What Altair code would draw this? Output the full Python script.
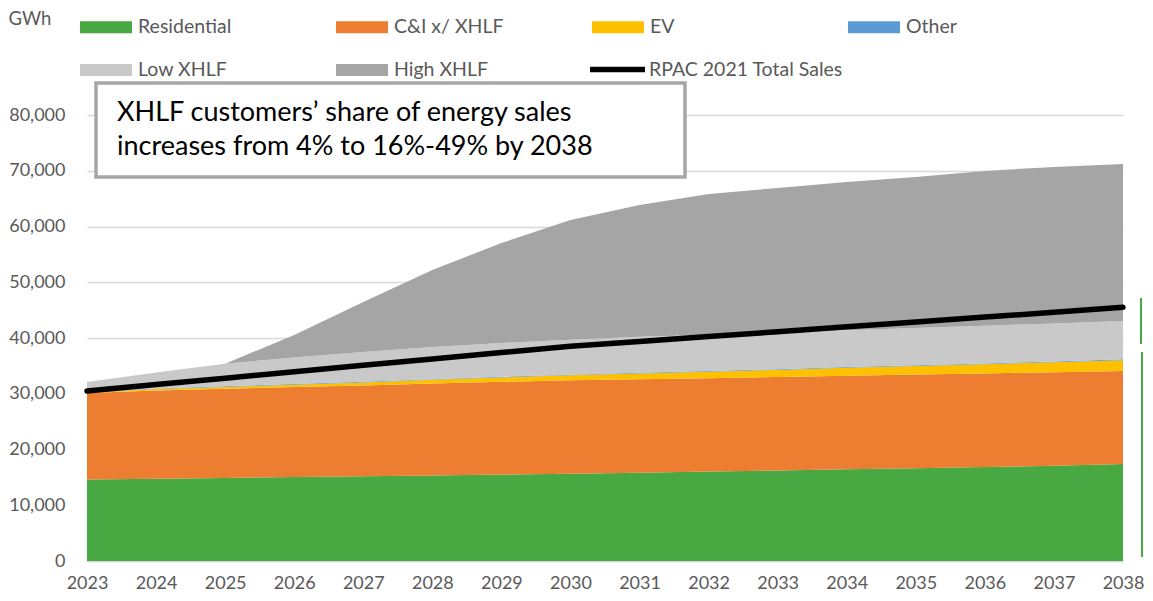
import altair as alt
import pandas as pd

years = list(range(2023, 2039))
residential = [14600, 14750, 14900, 15050, 15200, 15350, 15500, 15650, 15850, 16050, 16250, 16450, 16650, 16850, 17100, 17400]
ci_x_xhlf = [15530, 15850, 16000, 16150, 16300, 16500, 16650, 16750, 16750, 16750, 16750, 16800, 16800, 16800, 16750, 16680]
ev = [150, 250, 330, 420, 520, 650, 780, 900, 1020, 1140, 1270, 1400, 1530, 1660, 1800, 1950]
other = [110, 110, 115, 115, 120, 120, 120, 125, 125, 125, 130, 130, 130, 135, 135, 140]
low_xhlf = [1700, 2830, 4050, 4760, 5360, 5780, 6050, 6280, 6460, 6540, 6610, 6630, 6700, 6770, 6830, 6900]
high_xhlf = [0, 0, 0, 4040, 8960, 13800, 17940, 21470, 23660, 25230, 25900, 26580, 27080, 27760, 28070, 28150]
rpac_total = [30500, 31650, 32800, 33950, 35100, 36250, 37400, 38500, 39380, 40250, 41130, 42000, 42880, 43750, 44630, 45500]

area_names = ["Residential", "C&I x/ XHLF", "EV", "Other", "Low XHLF", "High XHLF"]
area_colors = ["#48a842", "#ed7d31", "#ffc000", "#5b9bd5", "#c9c9c9", "#a5a5a5"]
line_name = "RPAC 2021 Total Sales"
y_ticks = [0, 10000, 20000, 30000, 40000, 50000, 60000, 70000, 80000]
note_lines = ["XHLF customers\u2019 share of energy sales", "increases from 4% to 16%-49% by 2038"]

FONT = "Lato"
TXT = "#595959"

series_values = [residential, ci_x_xhlf, ev, other, low_xhlf, high_xhlf]
rows = []
for i, (name, vals) in enumerate(zip(area_names, series_values)):
    for yr, v in zip(years, vals):
        rows.append({"year": yr, "series": name, "idx": i, "gwh": v})
area_df = pd.DataFrame(rows)
line_df = pd.DataFrame({"year": years, "gwh": rpac_total, "series": [line_name] * len(years)})

x_enc = alt.X(
    "year:Q",
    scale=alt.Scale(domain=[2023, 2038], nice=False, zero=False),
    axis=alt.Axis(values=years, labelExpr="format(datum.value, 'd')", title=None,
                  labelFont=FONT, labelFontSize=18, labelColor=TXT, labelPadding=13.5,
                  ticks=False, domainColor="#d9d9d9", domainWidth=1.5, grid=False,
                  labelFlush=False),
)
y_scale = alt.Scale(domain=[0, 80000], nice=False)
y_axis = alt.Axis(values=y_ticks, labelExpr="format(datum.value, ',')", title="GWh",
                  titleAngle=0, titleAlign="left", titleBaseline="middle", titleX=-79,
                  titleY=-97, titleFont=FONT, titleFontSize=18.5, titleFontWeight="normal",
                  titleColor=TXT, labelFont=FONT, labelFontSize=18, labelColor=TXT,
                  labelPadding=22, ticks=False, domain=False, grid=True,
                  gridColor="#d9d9d9", gridWidth=1.5)

areas = alt.Chart(area_df).mark_area(opacity=1, interpolate="linear").encode(
    x=x_enc,
    y=alt.Y("gwh:Q", stack="zero", scale=y_scale, axis=y_axis),
    color=alt.Color(
        "series:N",
        scale=alt.Scale(domain=area_names, range=area_colors),
        legend=alt.Legend(
            title=None, orient="none", legendX=-7, legendY=-114, direction="horizontal",
            columns=4, gridAlign="all", columnPadding=88, rowPadding=7, padding=0,
            symbolType="M-1,-0.23L1,-0.23L1,0.23L-1,0.23Z", symbolSize=2704,
            symbolStrokeWidth=0, symbolOpacity=1,
            labelFont=FONT, labelFontSize=19.5, labelColor=TXT, labelOffset=6, labelLimit=400,
        ),
    ),
    order=alt.Order("idx:Q"),
)

line = alt.Chart(line_df).mark_line(strokeWidth=5.5, strokeCap="round").encode(
    x="year:Q",
    y="gwh:Q",
    stroke=alt.Stroke(
        "series:N",
        scale=alt.Scale(domain=[line_name], range=["#000000"]),
        legend=alt.Legend(
            title=None, orient="none", legendX=500, legendY=-76, padding=0,
            symbolType="stroke", symbolSize=3025, symbolStrokeWidth=5.5,
            labelFont=FONT, labelFontSize=19.5, labelColor=TXT, labelOffset=1, labelLimit=400,
        ),
    ),
)

box = alt.Chart(pd.DataFrame({"k": [0]})).mark_rect(
    fill="white", stroke="#a6a6a6", strokeWidth=3.5
).encode(x=alt.value(9), x2=alt.value(598), y=alt.value(-32), y2=alt.value(62))

note1 = alt.Chart(pd.DataFrame({"t": [note_lines[0]]})).mark_text(
    align="left", baseline="middle", font=FONT, fontSize=27, color="#000000"
).encode(text="t:N", x=alt.value(30), y=alt.value(-2))

note2 = alt.Chart(pd.DataFrame({"t": [note_lines[1]]})).mark_text(
    align="left", baseline="middle", font=FONT, fontSize=27, color="#000000"
).encode(text="t:N", x=alt.value(30), y=alt.value(32))

bracket_df = pd.DataFrame({"k": [0]})
br1 = alt.Chart(bracket_df).mark_rule(color="#4aa842", strokeWidth=2).encode(
    x=alt.value(1054), y=alt.value(183), y2=alt.value(229))
br2 = alt.Chart(bracket_df).mark_rule(color="#4aa842", strokeWidth=2).encode(
    x=alt.value(1055), y=alt.value(237), y2=alt.value(442))

chart = alt.layer(areas, line, box, note1, note2, br1, br2).resolve_scale(
    color="independent"
).properties(
    width=1036, height=446,
    autosize=alt.AutoSizeParams(type="none"),
    padding={"left": 79, "top": 107, "right": 22, "bottom": 32},
    background="white",
).configure_view(stroke=None)

chart.save("out.html", embed_options={"renderer": "svg", "actions": False})
